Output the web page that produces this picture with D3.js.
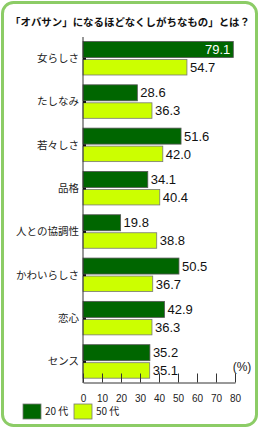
<!DOCTYPE html>
<html>
<head>
<meta charset="utf-8">
<script src="https://cdn.jsdelivr.net/npm/d3@7"></script>
<style>
  body { margin: 0; background: #fff; }
  svg { display: block; font-family: "Liberation Sans", Arial, "Noto Sans CJK JP", sans-serif; }
</style>
</head>
<body>
<svg id="chart" width="259" height="428"></svg>
<script>
// data
var categories = ["女らしさ", "たしなみ", "若々しさ", "品格", "人との協調性", "かわいらしさ", "恋心", "センス"];
var age20 = [79.1, 28.6, 51.6, 34.1, 19.8, 50.5, 42.9, 35.2];
var age50 = [54.7, 36.3, 42.0, 40.4, 38.8, 36.7, 36.3, 35.1];
var xTicks = [0, 10, 20, 30, 40, 50, 60, 70, 80];
var seriesNames = ["20 代", "50 代"];

var COLOR_20 = "#006600";
var COLOR_50 = "#ccff00";

var svg = d3.select("#chart");

// frame
svg.append("rect")
  .attr("x", 2.5).attr("y", 2.5)
  .attr("width", 254).attr("height", 423)
  .attr("rx", 11).attr("ry", 11)
  .attr("fill", "#fff")
  .attr("stroke", "#8ccc66")
  .attr("stroke-width", 3);

// title
svg.append("text")
  .attr("x", 10).attr("y", 26)
  .attr("textLength", 240)
  .attr("lengthAdjust", "spacingAndGlyphs")
  .style("font-family", "'Noto Sans CJK JP', sans-serif")
  .style("font-size", "10.4px")
  .style("font-weight", "bold")
  .attr("fill", "#111")
  .text("「オバサン」になるほどなくしがちなもの」とは？");

var x = d3.scaleLinear().domain([0, 80]).range([83, 235]);
var y = d3.scaleBand().domain(categories).range([37, 383.5]);

var rows = categories.map(function (c, i) {
  return { cat: c, v20: age20[i], v50: age50[i] };
});

var g = svg.append("g");

// bars 20代
g.selectAll(".bar20")
  .data(rows)
  .enter()
  .append("rect")
  .attr("class", "bar20")
  .attr("x", x(0))
  .attr("y", (d) => y(d.cat) + 4.5)
  .attr("width", (d) => x(d.v20) - x(0))
  .attr("height", 16)
  .attr("fill", COLOR_20)
  .attr("stroke", "#555")
  .attr("stroke-width", 0.8);

// bars 50代
g.selectAll(".bar50")
  .data(rows)
  .enter()
  .append("rect")
  .attr("class", "bar50")
  .attr("x", x(0))
  .attr("y", (d) => y(d.cat) + 22.5)
  .attr("width", (d) => x(d.v50) - x(0))
  .attr("height", 15.5)
  .attr("fill", COLOR_50)
  .attr("stroke", "#777")
  .attr("stroke-width", 0.8);

// value labels
g.selectAll(".lab20")
  .data(rows)
  .enter()
  .append("text")
  .attr("x", function (d) {
    return d.v20 > 70 ? x(d.v20) - 3 : x(d.v20) + 3;
  })
  .attr("y", (d) => y(d.cat) + 12.5)
  .attr("dy", "0.36em")
  .attr("text-anchor", (d) => (d.v20 > 70 ? "end" : "start"))
  .attr("fill", (d) => (d.v20 > 70 ? "#fff" : "#111"))
  .style("font-size", "13px")
  .text((d) => d.v20.toFixed(1));

g.selectAll(".lab50")
  .data(rows)
  .enter()
  .append("text")
  .attr("x", (d) => x(d.v50) + 3)
  .attr("y", (d) => y(d.cat) + 30.5)
  .attr("dy", "0.36em")
  .attr("fill", "#111")
  .style("font-size", "13px")
  .text((d) => d.v50.toFixed(1));

// y axis
var yAxis = svg.append("g")
  .attr("transform", "translate(" + x(0) + ",0)")
  .call(d3.axisLeft(y).tickSize(-3).tickPadding(6));
yAxis.select(".domain").attr("stroke", "#333").attr("d", "M0,37V383");
yAxis.selectAll(".tick line").attr("stroke", "#111").attr("stroke-width", 2);
yAxis.selectAll(".tick text")
  .attr("x", -4)
  .style("font-family", "'Noto Sans CJK JP', sans-serif")
  .style("font-size", "10.5px")
  .attr("fill", "#222");

// x axis
var xAxis = svg.append("g")
  .attr("transform", "translate(0,382.5)")
  .call(d3.axisBottom(x).tickValues(xTicks).tickSize(-9).tickPadding(12).tickSizeOuter(0));
xAxis.select(".domain").attr("stroke", "#333");
xAxis.selectAll(".tick line").attr("stroke", "#333");
xAxis.selectAll(".tick text")
  .style("font-size", "10px")
  .attr("fill", "#222");

svg.append("text")
  .attr("x", 242).attr("y", 371)
  .attr("text-anchor", "middle")
  .style("font-size", "12px")
  .attr("fill", "#222")
  .text("(%)");

// legend
var legend = svg.append("g").attr("transform", "translate(23,404)");
var legendColors = [COLOR_20, COLOR_50];
seriesNames.forEach(function (name, i) {
  var lg = legend.append("g").attr("transform", "translate(" + i * 51 + ",0)");
  lg.append("rect")
    .attr("width", 18).attr("height", 15)
    .attr("fill", legendColors[i])
    .attr("stroke", "#777")
    .attr("stroke-width", 0.8);
  lg.append("text")
    .attr("x", 22).attr("y", 7.5)
    .attr("dy", "0.36em")
    .style("font-family", "'Noto Sans CJK JP', sans-serif")
    .style("font-size", "10px")
    .attr("fill", "#222")
    .text(name);
});
</script>
</body>
</html>
